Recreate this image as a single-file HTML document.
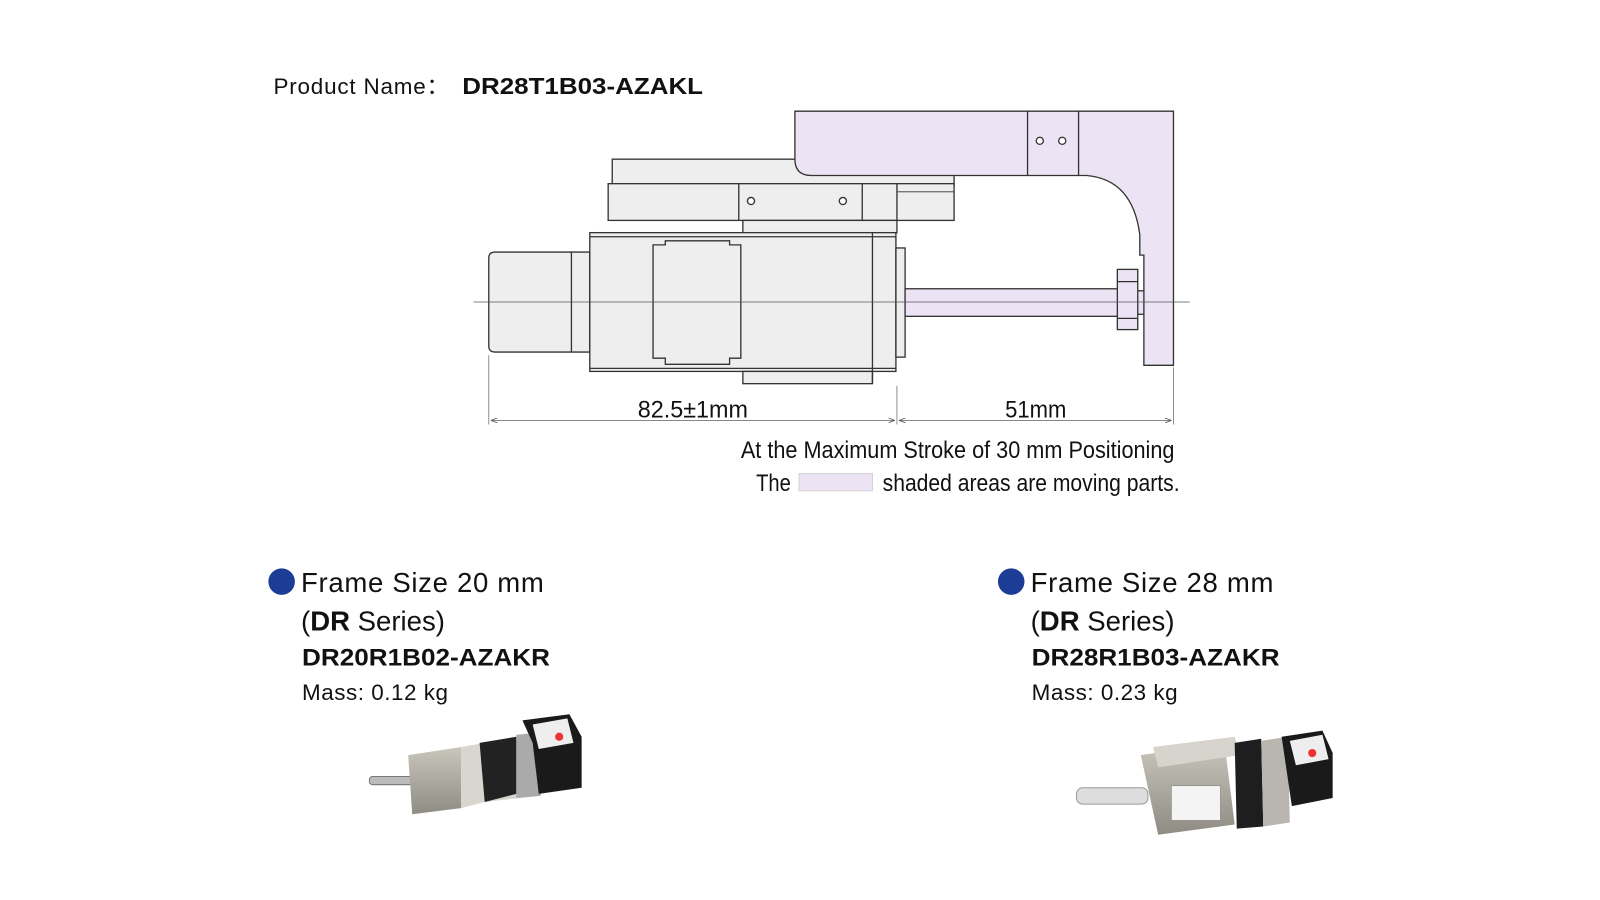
<!DOCTYPE html>
<html><head><meta charset="utf-8"><style>
html,body{margin:0;padding:0;background:#fff;}
svg{display:block;}
.c{font-family:"Liberation Sans Narrow","Liberation Sans",sans-serif;fill:#111;}
.s{font-family:"Liberation Sans",sans-serif;fill:#111;}
</style></head><body>
<svg width="1600" height="900" viewBox="0 0 1568 882" xmlns="http://www.w3.org/2000/svg">
<defs>
<marker id="ar" markerWidth="8" markerHeight="6" refX="8" refY="3" orient="auto-start-reverse"><path d="M0,0 L8,3 L0,6" fill="none" stroke="#555" stroke-width="1"/></marker>
<linearGradient id="gm" x1="0" y1="0" x2="0" y2="1"><stop offset="0" stop-color="#c9c6bc"/><stop offset="1" stop-color="#8f8c84"/></linearGradient>
</defs>
<text x="268" y="92" class="s" font-size="22" textLength="172">Product Name：</text>
<text x="453" y="92" class="s" font-size="23" font-weight="bold" textLength="236" lengthAdjust="spacingAndGlyphs">DR28T1B03-AZAKL</text>

<g stroke="#333" stroke-width="1.3">
<rect x="600" y="156" width="335" height="26" fill="#eee"/>
<path d="M779,109 H1150 V358 H1121 V250 H1117 V230 Q1110,176 1065,172 H795 Q779,172 779,156 Z" fill="#ece4f4"/>
<line x1="1007" y1="109" x2="1007" y2="172"/>
<line x1="1057" y1="109" x2="1057" y2="172"/>
<circle cx="1019" cy="138" r="3.5" fill="#fff"/><circle cx="1041" cy="138" r="3.5" fill="#fff"/>
<rect x="596" y="180" width="339" height="36" fill="#eee"/>
<line x1="724" y1="180" x2="724" y2="216"/><line x1="845" y1="180" x2="845" y2="216"/><line x1="879" y1="180" x2="879" y2="216"/>
<line x1="879" y1="188" x2="935" y2="188" stroke-width="0.8"/>
<circle cx="736" cy="197" r="3.5" fill="#fff"/><circle cx="826" cy="197" r="3.5" fill="#fff"/>
<rect x="728" y="216" width="151" height="12" fill="#eee"/>
<path d="M485,247 H578 V345 H485 Q479,345 479,339 V253 Q479,247 485,247 Z" fill="#eee"/>
<line x1="560" y1="247" x2="560" y2="345"/>
<rect x="578" y="228" width="300" height="136" fill="#eee"/>
<line x1="578" y1="232" x2="878" y2="232"/><line x1="578" y1="361" x2="878" y2="361"/>
<path d="M652,236 H715 V240 H726 V351 H715 V357 H652 V351 H640 V240 H652 Z" fill="#eee"/>
<rect x="728" y="364" width="127" height="12" fill="#eee"/>
<line x1="855" y1="228" x2="855" y2="376"/>
<rect x="878" y="243" width="9" height="107" fill="#eee"/>
<rect x="887" y="283" width="210" height="27" fill="#ece4f4"/>
<rect x="1110" y="285" width="11" height="23" fill="#ece4f4"/>
<rect x="1095" y="264" width="20" height="59" fill="#ece4f4"/>
<line x1="1095" y1="276" x2="1115" y2="276"/><line x1="1095" y1="312" x2="1115" y2="312"/>
</g>
<line x1="464" y1="296" x2="1166" y2="296" stroke="#555" stroke-width="0.7"/>
<g stroke="#777" stroke-width="0.8">
<line x1="479" y1="348" x2="479" y2="416"/><line x1="879" y1="378" x2="879" y2="416"/><line x1="1150" y1="360" x2="1150" y2="416"/>
<line x1="481" y1="412" x2="877" y2="412" marker-start="url(#ar)" marker-end="url(#ar)"/>
<line x1="881" y1="412" x2="1148" y2="412" marker-start="url(#ar)" marker-end="url(#ar)"/>
</g>
<text x="625" y="409" class="c" font-size="24" textLength="108" lengthAdjust="spacingAndGlyphs">82.5±1mm</text>
<text x="985" y="409" class="c" font-size="24" textLength="60" lengthAdjust="spacingAndGlyphs">51mm</text>
<text x="726" y="449" class="c" font-size="24" textLength="425" lengthAdjust="spacingAndGlyphs">At the Maximum Stroke of 30 mm Positioning</text>
<text x="741" y="481" class="c" font-size="24" textLength="34" lengthAdjust="spacingAndGlyphs">The</text>
<rect x="783" y="464" width="72" height="17" fill="#ece4f4" stroke="#ccc" stroke-width="0.8"/>
<text x="865" y="481" class="c" font-size="24" textLength="291" lengthAdjust="spacingAndGlyphs">shaded areas are moving parts.</text>

<circle cx="276" cy="570" r="13" fill="#1c3c96"/>
<text x="295" y="580" class="s" font-size="27" textLength="238">Frame Size 20 mm</text>
<text x="295" y="618" class="s" font-size="27">(<tspan font-weight="bold">DR</tspan> Series)</text>
<text x="296" y="652" class="s" font-size="24" font-weight="bold" textLength="243" lengthAdjust="spacingAndGlyphs">DR20R1B02-AZAKR</text>
<text x="296" y="686" class="s" font-size="22" textLength="143">Mass: 0.12 kg</text>
<g>
<rect x="362" y="761" width="42" height="8" rx="3" fill="#bbb" stroke="#777"/>
<polygon points="400,740 452,732 452,792 404,798" fill="url(#gm)"/>
<polygon points="452,732 475,728 528,726 528,780 475,786 452,792" fill="#d8d6ce"/>
<polygon points="470,728 506,722 506,778 475,786" fill="#222"/>
<polygon points="506,720 528,718 530,780 506,782" fill="#aaa"/>
<polygon points="512,706 558,700 570,722 570,772 528,778 522,728" fill="#1a1a1a"/>
<polygon points="522,710 556,704 562,728 528,734" fill="#eee"/>
<circle cx="548" cy="722" r="4" fill="#e33"/>
</g>

<circle cx="991" cy="570" r="13" fill="#1c3c96"/>
<text x="1010" y="580" class="s" font-size="27" textLength="238">Frame Size 28 mm</text>
<text x="1010" y="618" class="s" font-size="27">(<tspan font-weight="bold">DR</tspan> Series)</text>
<text x="1011" y="652" class="s" font-size="24" font-weight="bold" textLength="243" lengthAdjust="spacingAndGlyphs">DR28R1B03-AZAKR</text>
<text x="1011" y="686" class="s" font-size="22" textLength="143">Mass: 0.23 kg</text>
<g>
<rect x="1055" y="772" width="70" height="16" rx="6" fill="#ddd" stroke="#999"/>
<polygon points="1118,740 1200,728 1210,808 1135,818" fill="url(#gm)"/>
<polygon points="1130,732 1210,722 1215,740 1135,752" fill="#d6d4cc"/>
<rect x="1148" y="770" width="48" height="34" fill="#f4f4f4" stroke="#888" stroke-width="0.6"/>
<polygon points="1210,728 1236,724 1238,810 1212,812" fill="#1e1e1e"/>
<polygon points="1236,726 1262,722 1264,806 1238,810" fill="#b8b6ae"/>
<polygon points="1256,722 1296,716 1306,738 1306,782 1266,790" fill="#1a1a1a"/>
<polygon points="1264,726 1296,720 1302,744 1270,750" fill="#eee"/>
<circle cx="1286" cy="738" r="4" fill="#e33"/>
</g>
</svg>
</body></html>
